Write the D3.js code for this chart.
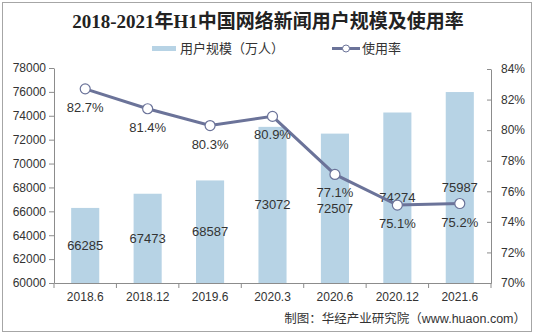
<!DOCTYPE html>
<html><head><meta charset="utf-8">
<script src="https://cdn.jsdelivr.net/npm/d3@7"></script>
<style>
body{margin:0;background:#fff;}
svg{display:block;}
</style></head>
<body>
<svg id="chart" width="536" height="336"></svg>
<script>
const categories = ["2018.6","2018.12","2019.6","2020.3","2020.6","2020.12","2021.6"];
const users = [66285, 67473, 68587, 73072, 72507, 74274, 75987];
const rates = [82.7, 81.4, 80.3, 80.9, 77.1, 75.1, 75.2];
const leftTicks = [60000,62000,64000,66000,68000,70000,72000,74000,76000,78000];
const rightTicks = [70,72,74,76,78,80,82,84];

const svg = d3.select("#chart");
const W = 536, H = 336;
const m = {left:54, right:491, top:68, bottom:283};
const barColor = "#b7d3e5", lineColor = "#6b7399", textColor = "#333";
const font = "'Liberation Sans', Arial, 'Noto Sans CJK SC', sans-serif";

svg.append("rect").attr("x",2.5).attr("y",2.5).attr("width",529).attr("height",329)
  .attr("fill","#fff").attr("stroke","#a6a6a6").attr("stroke-width",1);

const x = d3.scaleBand().domain(categories).range([m.left, m.right]).paddingInner(0.55).paddingOuter(0.275);
const xOuter = d3.scaleBand().domain(categories).range([m.left, m.right]);
const yL = d3.scaleLinear().domain([60000,78000]).range([m.bottom, m.top]);
const yR = d3.scaleLinear().domain([70,84]).range([m.bottom, m.top+1]);

// title
svg.append("text").attr("x",268).attr("y",28).attr("text-anchor","middle")
  .attr("font-family","'Liberation Serif','Noto Sans CJK SC',serif").attr("font-weight","bold")
  .attr("font-size",19).attr("fill","#222").text("2018-2021年H1中国网络新闻用户规模及使用率");

// legend
const lg = svg.append("g").attr("font-family",font).attr("font-size",13).attr("fill",textColor);
lg.append("rect").attr("x",152).attr("y",46).attr("width",24).attr("height",5).attr("fill",barColor);
lg.append("text").attr("x",180).attr("y",53).attr("fill",textColor).text("用户规模（万人）");
lg.append("line").attr("x1",332).attr("x2",360).attr("y1",48.5).attr("y2",48.5).attr("stroke",lineColor).attr("stroke-width",3);
lg.append("circle").attr("cx",346).attr("cy",48.5).attr("r",3.5).attr("fill","#fff").attr("stroke",lineColor).attr("stroke-width",1);
lg.append("text").attr("x",362).attr("y",53).attr("fill",textColor).text("使用率");

// bars
svg.append("g").selectAll("rect").data(users).join("rect")
  .attr("x",(d,i)=>x(categories[i])).attr("width",x.bandwidth())
  .attr("y",d=>yL(d)).attr("height",d=>yL(60000)-yL(d)).attr("fill",barColor);

// axes
const axisColor = "#8c8c8c";
const gL = svg.append("g").attr("transform",`translate(${m.left},0)`)
  .call(d3.axisLeft(yL).tickValues(leftTicks).tickFormat(d3.format("d")).tickSize(5).tickSizeOuter(0));
const gR = svg.append("g").attr("transform",`translate(${m.right},0)`)
  .call(d3.axisRight(yR).tickValues(rightTicks).tickFormat(d=>d+"%").tickSize(-4).tickPadding(10).tickSizeOuter(0));
const gX = svg.append("g").attr("transform",`translate(0,${m.bottom})`)
  .call(d3.axisBottom(xOuter).tickSize(0).tickPadding(9));
// category separator ticks
svg.append("g").selectAll("line").data(d3.range(categories.length+1)).join("line")
  .attr("x1",i=>m.left+i*xOuter.step()).attr("x2",i=>m.left+i*xOuter.step())
  .attr("y1",m.bottom).attr("y2",m.bottom+5).attr("stroke",axisColor);
[gL,gR,gX].forEach(g=>{
  g.selectAll("path").attr("stroke",axisColor);
  g.selectAll("line").attr("stroke",axisColor);
  g.selectAll("text").attr("font-family",font).attr("font-size",12).attr("fill",textColor);
});

// bar labels
svg.append("g").selectAll("text").data(users).join("text")
  .attr("x",(d,i)=>x(categories[i])+x.bandwidth()/2)
  .attr("y",d=>(yL(d)+yL(60000))/2+4.5)
  .attr("text-anchor","middle").attr("font-family",font).attr("font-size",13).attr("fill",textColor)
  .text(d=>d);

// line
const cx = (d,i)=>xOuter(categories[i])+xOuter.bandwidth()/2;
const line = d3.line().x(cx).y(d=>yR(d));
svg.append("path").datum(rates).attr("d",line).attr("fill","none").attr("stroke",lineColor).attr("stroke-width",3);
svg.append("g").selectAll("circle").data(rates).join("circle")
  .attr("cx",cx).attr("cy",d=>yR(d)).attr("r",5).attr("fill","#fff").attr("stroke",lineColor).attr("stroke-width",1.2);
svg.append("g").selectAll("text").data(rates).join("text")
  .attr("x",cx).attr("y",d=>yR(d)+23)
  .attr("text-anchor","middle").attr("font-family",font).attr("font-size",13).attr("fill",textColor)
  .text(d=>d.toFixed(1)+"%");

// source
svg.append("text").attr("x",526).attr("y",323).attr("text-anchor","end")
  .attr("font-family",font).attr("font-size",12.5).attr("fill",textColor)
  .text("制图：华经产业研究院（www.huaon.com）");
</script>
</body></html>
